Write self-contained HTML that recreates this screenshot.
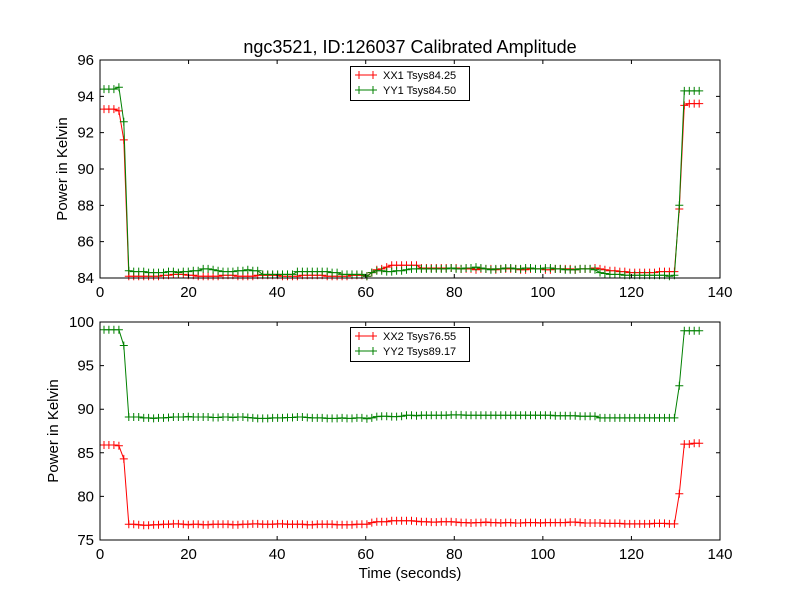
<!DOCTYPE html>
<html><head><meta charset="utf-8"><style>
body{margin:0;background:#fff;}
svg text{font-family:"Liberation Sans","DejaVu Sans",sans-serif;}
</style></head><body>
<svg id="chart" width="800" height="600" viewBox="0 0 800 600" xmlns="http://www.w3.org/2000/svg">
<rect width="800" height="600" fill="#fff"/>
<text x="410" y="53" font-size="18" text-anchor="middle">ngc3521, ID:126037 Calibrated Amplitude</text>
<g id="g1"></g><g id="g2"></g>
</svg>
<script>
const xTicks=[0,20,40,60,80,100,120,140];
const y1Ticks=[84,86,88,90,92,94,96];
const y2Ticks=[75,80,85,90,95,100];
const t0=0.9, dt=1.12;
const xx1=[93.3,93.3,93.3,93.2,91.6,
84.1,84.1,84.1,84.1,84.1,84.1,84.1,84.15,84.15,84.2,84.2,84.2,84.15,84.15,84.1,
84.1,84.1,84.1,84.1,84.15,84.15,84.15,84.1,84.1,84.1,84.1,84.15,84.15,84.15,84.15,84.15,84.1,84.1,84.1,84.1,84.15,84.15,84.15,84.15,84.15,84.1,84.1,84.1,84.1,84.1,84.15,84.15,84.15,
84.1,84.3,84.45,84.5,84.6,84.7,84.7,84.7,84.7,84.7,84.7,
84.55,84.55,84.55,84.55,84.55,84.55,84.55,
84.55,84.5,84.5,84.5,84.45,84.5,84.5,84.5,84.45,84.5,84.5,84.5,84.5,84.45,84.45,84.5,84.5,84.5,84.45,84.45,84.5,84.5,84.5,84.5,84.45,84.5,84.5,84.5,
84.55,84.5,84.45,84.4,84.4,
84.35,84.35,84.3,84.3,84.3,84.3,84.3,84.3,84.35,84.35,84.35,84.35,
87.8,93.5,93.6,93.6,93.6];
const yy1=[94.4,94.4,94.4,94.5,92.6,
84.4,84.35,84.35,84.35,84.3,84.3,84.3,84.3,84.35,84.35,84.3,84.35,84.35,84.4,84.4,
84.5,84.5,84.45,84.4,84.35,84.35,84.35,84.4,84.4,84.45,84.4,84.4,84.2,84.2,84.2,84.2,84.2,84.2,84.2,84.35,84.35,84.35,84.35,84.35,84.35,84.35,84.3,84.3,84.2,84.2,84.2,84.2,84.2,
84.1,84.3,84.4,84.4,84.35,84.35,84.4,84.4,84.45,84.5,84.5,
84.5,84.5,84.5,84.5,84.5,84.5,84.55,
84.5,84.5,84.55,84.55,84.6,84.55,84.5,84.45,84.5,84.5,84.55,84.55,84.5,84.5,84.55,84.55,84.5,84.5,84.55,84.55,84.5,84.5,84.45,84.45,84.45,84.5,84.5,84.5,
84.45,84.3,84.25,84.2,84.2,
84.2,84.15,84.15,84.15,84.15,84.15,84.15,84.15,84.15,84.15,84.1,84.15,
88.0,94.3,94.3,94.3,94.3];
const xx2=[85.9,85.9,85.9,85.8,84.3,
76.8,76.8,76.75,76.7,76.7,76.75,76.75,76.8,76.8,76.85,76.85,76.8,76.75,76.8,76.8,76.75,76.75,76.8,76.8,76.8,
76.8,76.75,76.75,76.8,76.8,76.85,76.85,76.8,76.8,76.8,
76.85,76.85,76.8,76.8,76.8,76.8,76.75,76.75,76.8,76.8,
76.8,76.8,76.75,76.75,76.75,76.75,76.8,76.8,
76.8,77.0,77.1,77.1,77.1,77.2,77.2,77.2,77.2,77.2,77.15,
77.1,77.1,77.05,77.05,77.1,77.1,77.1,
77.05,77.0,77.0,76.95,77.0,77.0,77.05,77.0,77.0,76.95,77.0,77.0,76.95,76.95,77.0,77.0,77.0,76.95,77.0,77.0,77.0,77.0,77.0,77.05,77.05,77.0,76.95,76.95,
76.95,76.95,76.9,76.9,76.9,
76.9,76.85,76.85,76.85,76.85,76.85,76.85,76.9,76.9,76.9,76.85,76.85,
80.3,86.0,86.0,86.1,86.1];
const yy2=[99.1,99.1,99.1,99.1,97.3,
89.1,89.1,89.1,89.0,89.0,88.95,89.0,89.0,89.05,89.1,89.1,89.1,89.15,89.1,89.1,
89.1,89.1,89.05,89.05,89.1,89.1,89.05,89.1,89.1,89.05,89.0,88.95,88.95,88.95,89.0,89.0,89.0,89.05,89.05,89.1,89.1,89.05,89.0,89.0,89.0,88.95,88.95,88.95,89.0,88.95,88.95,89.0,89.0,
88.9,89.0,89.15,89.2,89.2,89.15,89.15,89.2,89.3,89.3,89.25,
89.3,89.3,89.3,89.3,89.3,89.3,89.35,
89.35,89.35,89.3,89.3,89.3,89.3,89.3,89.3,89.3,89.3,89.3,89.3,89.3,89.3,89.3,89.3,89.3,89.3,89.3,89.3,89.25,89.25,89.25,89.25,89.25,89.2,89.2,89.2,
89.2,89.0,89.0,89.0,89.0,
89.0,89.0,89.0,89.0,89.0,89.0,89.0,89.0,89.0,89.0,89.0,89.0,
92.7,99.0,99.0,99.0,99.0];

const NS="http://www.w3.org/2000/svg";
function mk(tag,attrs,parent){const e=document.createElementNS(NS,tag);for(const k in attrs)e.setAttribute(k,attrs[k]);parent.appendChild(e);return e;}

function panel(g,top,bottom,ymin,ymax,yTicks,series,names,labels,legendY,prefix){
  const L=100,R=720;
  const sx=v=>L+(v-0)/(140-0)*(R-L);
  const sy=v=>bottom-(v-ymin)/(ymax-ymin)*(bottom-top);
  const plot=mk('g',{},g);
  
  
  const cols=['#ff0000','#008000'];
  series.forEach((arr,si)=>{
    let d='';
    arr.forEach((v,i)=>{const x=sx(t0+dt*i),y=sy(v);d+=(i?'L':'M')+x.toFixed(1)+' '+y.toFixed(1);});
    const p=mk('path',{d:d,fill:'none',stroke:cols[si],'stroke-width':1},plot);
    
    
    let md='';
    arr.forEach((v,i)=>{const x=sx(t0+dt*i),y=sy(v);md+='M'+(x-4).toFixed(1)+' '+y.toFixed(1)+'h8M'+x.toFixed(1)+' '+(y-4).toFixed(1)+'v8';});
    const m=mk('path',{d:md,fill:'none',stroke:cols[si],'stroke-width':1},plot);
    
    
  });
  const frame=mk('rect',{x:L,y:top,width:R-L,height:bottom-top,fill:'none',stroke:'#000','stroke-width':1},g);
  
  
  xTicks.forEach(v=>{
    const x=sx(v);
    mk('path',{d:`M${x} ${bottom}v-4M${x} ${top}v4`,stroke:'#000'},g);
    const t=mk('text',{x:x,y:bottom+19,'font-size':15,'text-anchor':'middle'},g);
    t.textContent=v;
    
    
  });
  yTicks.forEach(v=>{
    const y=sy(v);
    mk('path',{d:`M${L} ${y}h4M${R} ${y}h-4`,stroke:'#000'},g);
    const t=mk('text',{x:L-6,y:y+5,'font-size':15,'text-anchor':'end'},g);
    t.textContent=v;
    
    
  });
  const yl=mk('text',{x:0,y:0,'font-size':15,'text-anchor':'middle',transform:`translate(${prefix==='top'?67:58},${(top+bottom)/2}) rotate(-90)`},g);
  yl.textContent='Power in Kelvin';
  
  
  const lg=mk('g',{},g);
  
  
  mk('rect',{x:350.5,y:legendY+0.5,width:119,height:34,fill:'#fff',stroke:'#000','stroke-width':1},lg);
  labels.forEach((lab,i)=>{
    const yy=legendY+9+i*15;
    const e=mk('g',{},lg);
    
    
    mk('path',{d:`M355 ${yy}h22M359 ${yy-4}v8M373 ${yy-4}v8`,stroke:cols[i],fill:'none'},e);
    const t=mk('text',{x:383,y:yy+4,'font-size':11},e);
    t.textContent=lab;
  });
}
panel(document.getElementById('g1'),60,278,84,96,y1Ticks,[xx1,yy1],['xx1','yy1'],['XX1 Tsys84.25','YY1 Tsys84.50'],66,'top');
panel(document.getElementById('g2'),322,540,75,100,y2Ticks,[xx2,yy2],['xx2','yy2'],['XX2 Tsys76.55','YY2 Tsys89.17'],327,'bottom');
const xt=mk('text',{x:410,y:578,'font-size':15,'text-anchor':'middle'},document.getElementById('chart'));
xt.textContent='Time (seconds)';


</script>
</body></html>
